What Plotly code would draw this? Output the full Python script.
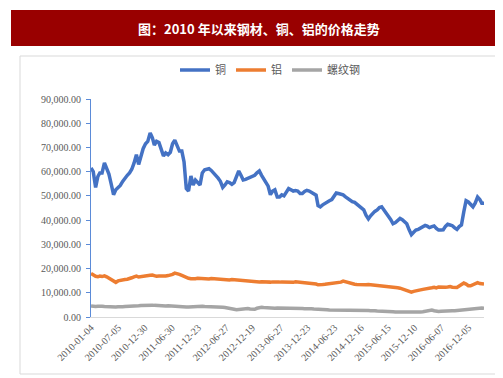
import plotly.graph_objects as go

# semi-monthly sample dates (categories)
months = [f"{y}-{m:02d}" for y in range(2010, 2018) for m in range(1, 13)][:87]
dates = [f"{mo}-{d}" for mo in months for d in ("04", "19")]

# prices, thousand yuan / ton
copper_k = [
    61.5, 60, 53.5, 58, 59.5, 59.5, 63.6, 61.5, 59, 55,
    50.5, 52.5, 53.3, 54.3, 56, 57.5, 58.5, 59.5, 61, 63.5,
    67, 63, 66.5, 69.5, 71.5, 72.5, 76, 74, 71, 72.5,
    72, 69, 66.5, 67.7, 67, 68, 71.5, 73, 71, 68.5,
    68.5, 64, 53, 52, 58.2, 54.5, 56.5, 55.5, 54.5, 59.5,
    60.8, 61, 61.2, 60.5, 59.5, 58.5, 57.3, 56, 53.5, 54.5,
    55.8, 55.5, 54.8, 55.5, 58, 60.3, 58.5, 56.6, 56.8, 57.2,
    57.4, 58, 58.5, 59.5, 60.3, 58.5, 57, 55.5, 54, 50.5,
    52, 52.5, 49.5, 49.5, 50.4, 50, 51.5, 53, 52.5, 52,
    52.2, 52, 51, 51, 51.8, 52.3, 52, 51.3, 50.8, 50.3,
    46, 45.5, 46.3, 47, 47.5, 48, 48.5, 50, 51.2, 51,
    50.6, 50.4, 49.6, 48.8, 48, 47.6, 47.3, 46.5, 45.4, 44.8,
    44.2, 42, 40.5, 41.8, 42.8, 43.6, 44.2, 45.2, 45.5, 44,
    42.8, 41.5, 40.2, 38.5, 39, 39.8, 40.7, 40.2, 39.3, 38.5,
    36, 34, 35, 35.9, 36.2, 36.6, 37.2, 37.8, 37.5, 36.9,
    37.3, 37.6, 36.6, 35.9, 35.9, 36, 37.4, 38.3, 38, 37.7,
    36.8, 36.2, 37.3, 38, 43.5, 48, 47.5, 46.3, 45.5, 47,
    49.5, 48.5, 47, 47,
]
aluminium_k = [
    18.0, 17.2, 16.8, 16.6, 16.9, 16.7, 17.0, 16.6, 16.0, 15.2,
    14.6, 14.3, 14.9, 15.2, 15.3, 15.5, 15.6, 15.8, 16.2, 16.6,
    16.9, 16.5, 16.7, 16.6, 16.8, 17.0, 17.2, 17.3, 17.0, 16.8,
    16.9, 16.8, 16.7, 16.9, 17.1, 17.3, 17.6, 18.1, 18.0, 17.6,
    17.2, 16.8, 16.2, 16.0, 15.8, 15.7, 15.8, 16.0, 15.9, 16.1,
    16.0, 15.8, 15.7, 15.9, 15.8, 15.6, 15.7, 15.6, 15.4, 15.5,
    15.4, 15.3, 15.5, 15.4, 15.2, 15.3, 15.0, 15.1, 15.0, 14.8,
    14.9, 14.8, 14.7, 14.6, 14.5, 14.6, 14.5, 14.4, 14.3, 14.4,
    14.5, 14.4, 14.3, 14.4, 14.5, 14.4, 14.4, 14.5, 14.4, 14.3,
    14.5, 14.4, 14.3, 14.2, 14.2, 14.1, 14.0, 14.1, 14.0, 13.6,
    13.3, 13.2, 13.4, 13.5, 13.6, 13.6, 13.7, 13.8, 14.0, 14.1,
    14.4, 14.8, 14.5, 14.0, 13.8, 13.6, 13.5, 13.4, 13.3, 13.3,
    13.2, 13.3, 13.4, 13.3, 13.2, 13.2, 13.3, 13.1, 13.0, 12.9,
    12.8, 12.7, 12.6, 12.4, 12.2, 12.1, 11.9, 11.6, 11.2, 10.8,
    10.6, 10.3, 10.6, 10.9, 11.1, 11.2, 11.4, 11.5, 11.6, 11.7,
    12.1, 12.3, 12.0, 12.4, 12.3, 12.5, 12.3, 12.4, 12.6, 12.3,
    12.1, 12.2, 12.8, 13.5, 14.0, 13.6, 12.9, 12.9, 13.3, 14.0,
    14.2, 13.8, 13.7, 13.6,
]
rebar_k = [
    4.6, 4.4, 4.3, 4.4, 4.5, 4.4, 4.3, 4.2, 4.1, 4.2,
    4.2, 4.1, 4.2, 4.1, 4.2, 4.3, 4.3, 4.4, 4.4, 4.5,
    4.6, 4.6, 4.7, 4.8, 4.9, 5.0, 5.1, 4.9, 4.8, 4.7,
    4.7, 4.6, 4.6, 4.5, 4.6, 4.5, 4.6, 4.5, 4.4, 4.3,
    4.2, 4.2, 4.1, 4.1, 4.2, 4.2, 4.3, 4.2, 4.3, 4.4,
    4.3, 4.3, 4.2, 4.1, 4.1, 4.2, 4.0, 4.1, 4.0, 3.9,
    3.8, 3.6, 3.4, 3.2, 3.0, 3.1, 3.3, 3.6, 3.7, 3.5,
    3.3, 3.1, 3.2, 3.6, 3.9, 4.0, 3.9, 3.8, 3.7, 3.8,
    3.7, 3.6, 3.7, 3.7, 3.6, 3.6, 3.7, 3.7, 3.8, 3.7,
    3.6, 3.6, 3.5, 3.5, 3.4, 3.5, 3.4, 3.4, 3.3, 3.3,
    3.2, 3.2, 3.1, 3.1, 3.0, 2.9, 2.9, 3.0, 2.9, 2.9,
    2.8, 2.8, 2.9, 2.9, 2.8, 2.8, 2.9, 2.8, 2.8, 2.7,
    2.7, 2.8, 2.7, 2.6, 2.7, 2.6, 2.5, 2.5, 2.4, 2.3,
    2.3, 2.3, 2.2, 2.2, 2.1, 2.1, 2.0, 2.0, 1.9, 1.9,
    1.8, 1.8, 1.9, 1.9, 2.0, 2.1, 2.2, 2.4, 2.6, 2.8,
    2.9, 2.6, 2.3, 2.3, 2.4, 2.5, 2.5, 2.4, 2.5, 2.6,
    2.6, 2.7, 2.9, 3.0, 3.2, 3.0, 3.1, 3.4, 3.3, 3.5,
    3.7, 3.6, 3.7, 3.6,
]

series_names = ["铜", "铝", "螺纹钢"]
series_colors = ["#4472C4", "#ED7D31", "#A5A5A5"]

tick_dates = ["2010-01-04", "2010-07-05", "2010-12-30", "2011-06-30", "2011-12-23",
              "2012-06-27", "2012-12-19", "2013-06-27", "2013-12-23", "2014-06-23",
              "2014-12-16", "2015-06-15", "2015-12-10", "2016-06-07", "2016-12-05"]

title_text = "图：2010 年以来钢材、铜、铝的价格走势"

fig = go.Figure()
for name, col, vals in zip(series_names, series_colors, [copper_k, aluminium_k, rebar_k]):
    fig.add_trace(go.Scatter(
        x=dates, y=[v * 1000 for v in vals], mode="lines", name=name,
        line=dict(color=col, width=3.5),
    ))

# plot area geometry in pixels
W, H = 503, 378
L, R, T, B = 83, 476, 91, 309
pw, ph = R - L, B - T

def px_x(x):
    return (x - L) / pw

def px_y(y):
    return (B - y) / ph

shapes = [
    # outer chart border
    dict(type="rect", xref="paper", yref="paper",
         x0=px_x(12), x1=px_x(495), y0=px_y(366), y1=px_y(48),
         line=dict(color="#D9D9D9", width=1), fillcolor="rgba(0,0,0,0)", layer="below"),
    # title bar
    dict(type="rect", xref="paper", yref="paper",
         x0=px_x(3), x1=px_x(498), y0=px_y(38), y1=px_y(2),
         line=dict(width=0), fillcolor="#990000", layer="below"),
]

fig.update_layout(
    width=W, height=H,
    margin=dict(l=L, r=W - R, t=T, b=H - B, pad=0),
    paper_bgcolor="white", plot_bgcolor="white",
    shapes=shapes,
    annotations=[dict(
        text=f"<b>{title_text}</b>", xref="paper", yref="paper",
        x=px_x(251), y=px_y(20), xanchor="center", yanchor="middle", showarrow=False,
        font=dict(family="Noto Sans CJK SC", size=13, color="white"),
    )],
    legend=dict(
        orientation="h", x=px_x(262), y=px_y(62), xanchor="center", yanchor="middle",
        font=dict(family="Noto Sans CJK SC", size=11, color="#595959"),
        itemwidth=30, tracegroupgap=0, bgcolor="rgba(0,0,0,0)",
    ),
    showlegend=True,
)

fig.update_yaxes(
    range=[0, 90000], dtick=10000, tickformat=",.2f",
    showgrid=False, zeroline=False,
    showline=True, linecolor="#5B8BD8", linewidth=1,
    ticks="outside", ticklen=4, tickcolor="#5B8BD8", ticklabelstandoff=3,
    tickfont=dict(family="Liberation Serif", size=10, color="#595959"),
)
fig.update_xaxes(
    type="date", range=[dates[0], dates[-1]],
    tickmode="array", tickvals=tick_dates, ticktext=tick_dates, tickangle=-45,
    showgrid=False, zeroline=False,
    showline=True, linecolor="#D9D9D9", linewidth=1, ticks="",
    tickfont=dict(family="Liberation Serif", size=10, color="#595959"),
)

fig.write_html("out.html")
